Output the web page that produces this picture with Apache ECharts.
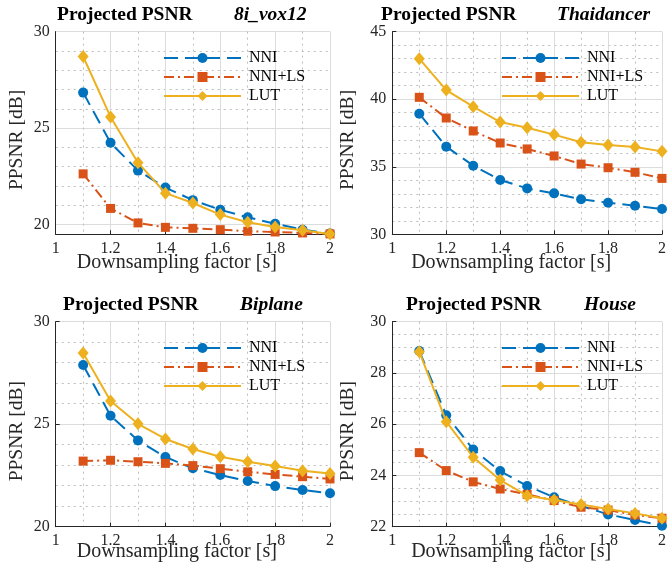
<!DOCTYPE html>
<html>
<head>
<meta charset="utf-8">
<script src="https://cdn.jsdelivr.net/npm/echarts@6/dist/echarts.min.js"></script>
<style>
  html, body { margin: 0; padding: 0; background: #fff; }
  #chart { width: 669px; height: 579px; }
</style>
</head>
<body>
<div id="chart"></div>
<script>
// downsampling factors on the x axis
const factors = [1.1, 1.2, 1.3, 1.4, 1.5, 1.6, 1.7, 1.8, 1.9, 2.0]
const methods = ['NNI', 'NNI+LS', 'LUT']
const sequences = ['8i_vox12', 'Thaidancer', 'Biplane', 'House']

// PPSNR [dB] per sequence / method
const voxNNI = [26.84, 24.24, 22.80, 21.92, 21.27, 20.77, 20.38, 20.05, 19.74, 19.54]
const voxNNILS = [22.63, 20.84, 20.09, 19.86, 19.81, 19.74, 19.66, 19.62, 19.57, 19.52]
const voxLUT = [28.71, 25.58, 23.21, 21.63, 21.12, 20.52, 20.12, 19.88, 19.71, 19.52]

const thaiNNI = [38.93, 36.49, 35.08, 34.02, 33.40, 33.03, 32.59, 32.34, 32.12, 31.87]
const thaiNNILS = [40.14, 38.61, 37.65, 36.76, 36.32, 35.80, 35.20, 34.93, 34.59, 34.14]
const thaiLUT = [43.00, 40.68, 39.45, 38.31, 37.89, 37.38, 36.81, 36.61, 36.46, 36.14]

const biplaneNNI = [27.89, 25.41, 24.21, 23.40, 22.85, 22.52, 22.23, 21.98, 21.79, 21.63]
const biplaneNNILS = [23.20, 23.24, 23.17, 23.09, 22.98, 22.83, 22.68, 22.55, 22.44, 22.33]
const biplaneLUT = [28.47, 26.13, 25.02, 24.28, 23.79, 23.41, 23.17, 22.96, 22.73, 22.60]

const houseNNI = [28.86, 26.35, 25.01, 24.17, 23.59, 23.15, 22.81, 22.48, 22.26, 22.04]
const houseNNILS = [24.89, 24.19, 23.75, 23.47, 23.26, 23.02, 22.76, 22.65, 22.46, 22.33]
const houseLUT = [28.83, 26.10, 24.71, 23.82, 23.21, 23.04, 22.87, 22.69, 22.52, 22.33]

const seqData = [
  [voxNNI, voxNNILS, voxLUT],
  [thaiNNI, thaiNNILS, thaiLUT],
  [biplaneNNI, biplaneNNILS, biplaneLUT],
  [houseNNI, houseNNILS, houseLUT],
]

// y axis ranges / ticks
const yRanges = [
  { min: 19.5, max: 30, major: 5, minor: 5 },
  { min: 30, max: 45, major: 5, minor: 5 },
  { min: 20, max: 30, major: 5, minor: 5 },
  { min: 22, max: 30, major: 2, minor: 4 },
]

// layout of the four panels
const panels = [
  { left: 55.7, top: 31.6, width: 274.3, height: 202.7, titleX: 57, subX: 234, titleY: 5, legendX: 163, legendY: 50, yGap: 29, xGap: 18 },
  { left: 392.3, top: 31.7, width: 275, height: 202.6, titleX: 381, subX: 557, titleY: 5, legendX: 501, legendY: 50, yGap: 34, xGap: 18 },
  { left: 55.7, top: 321.7, width: 274.3, height: 205, titleX: 63, subX: 240, titleY: 295, legendX: 163, legendY: 340, yGap: 29, xGap: 15.5 },
  { left: 392.3, top: 321.7, width: 275, height: 205, titleX: 406, subX: 584, titleY: 295, legendX: 501, legendY: 340, yGap: 34, xGap: 15.5 },
]

const colors = ['#0072BD', '#D95319', '#EDB120']
const lineTypes = [[14, 7], [10, 4, 2, 4], 'solid']
const symbols = ['circle', 'rect', 'diamond']
const symbolSizes = [10, 9, [11, 13]]

const FONT = 'Liberation Serif'
const axisColor = '#262626'
const majorColor = '#dcdcdc'
const minorColor = '#bdbdbd'

const chart = echarts.init(document.getElementById('chart'))

const grid = []
const xAxis = []
const yAxis = []
const series = []
const title = []
const legend = []

panels.forEach((p, i) => {
  grid.push({ left: p.left, top: p.top, width: p.width, height: p.height })

  title.push({
    text: 'Projected PSNR', left: p.titleX, top: p.titleY, padding: 0,
    textStyle: { fontFamily: FONT, fontSize: 19.5, fontWeight: 'bold', color: '#000' },
  })
  title.push({
    text: sequences[i], left: p.subX, top: p.titleY, padding: 0,
    textStyle: { fontFamily: FONT, fontSize: 19.5, fontWeight: 'bold', fontStyle: 'italic', color: '#000' },
  })

  xAxis.push({
    gridIndex: i,
    type: 'value',
    min: 1,
    max: 2,
    interval: 0.2,
    name: 'Downsampling factor [s]',
    nameLocation: 'middle',
    nameGap: p.xGap,
    nameMoveOverlap: false,
    nameTextStyle: { fontFamily: FONT, fontSize: 20, color: axisColor, padding: [0, 32, 0, 0] },
    axisLine: { lineStyle: { color: axisColor, width: 1 } },
    axisTick: { inside: true, length: 4, lineStyle: { color: axisColor } },
    axisLabel: { fontFamily: FONT, fontSize: 16, color: axisColor, margin: 6 },
    splitLine: { show: true, lineStyle: { color: majorColor, width: 1 } },
    minorTick: { show: false, splitNumber: 2 },
    minorSplitLine: { show: true, lineStyle: { color: minorColor, type: [2, 4] } },
  })

  const r = yRanges[i]
  const yName = {
    name: 'PPSNR [dB]',
    nameLocation: 'middle',
    nameGap: p.yGap,
    nameMoveOverlap: false,
    nameTextStyle: { fontFamily: FONT, fontSize: 19.5, color: axisColor, padding: [0, 14, 0, 0] },
  }
  const yIndex = yAxis.length

  if (r.min % r.major !== 0) {
    // range does not start on a major tick: step in half units, draw the grid by colour cycling
    const step = 0.5
    const perMajor = r.major / step
    const offset = Math.round(((Math.ceil(r.min / r.major) * r.major) - r.min) / step)
    const dotted = []
    const solid = []
    for (let k = 0; k < perMajor; k++) {
      const v = r.min + (k * step)
      dotted.push(Number.isInteger(v) ? minorColor : 'transparent')
      solid.push(k === offset ? majorColor : 'transparent')
    }
    yAxis.push(Object.assign({
      gridIndex: i, type: 'value', position: 'left',
      min: r.min, max: r.max, interval: step,
      axisLine: { show: true, lineStyle: { color: axisColor, width: 1 } },
      axisTick: { show: false },
      axisLabel: {
        fontFamily: FONT, fontSize: 16, color: axisColor, margin: 6,
        formatter: (v) => (Math.abs(v % r.major) < 1e-9 ? String(v) : ''),
      },
      splitLine: { show: true, lineStyle: { color: dotted, type: [2, 4] } },
    }, yName))
    yAxis.push({
      gridIndex: i, type: 'value', position: 'left',
      min: r.min, max: r.max, interval: step,
      axisLine: { show: false },
      axisTick: { show: false },
      axisLabel: { show: false },
      splitLine: { show: true, lineStyle: { color: solid, width: 1 } },
    })
  } else {
    yAxis.push(Object.assign({
      gridIndex: i, type: 'value',
      min: r.min, max: r.max, interval: r.major,
      axisLine: { show: true, lineStyle: { color: axisColor, width: 1 } },
      axisTick: { show: true, inside: true, length: 4, lineStyle: { color: axisColor } },
      axisLabel: { fontFamily: FONT, fontSize: 16, color: axisColor, margin: 6 },
      splitLine: { show: true, lineStyle: { color: majorColor, width: 1 } },
      minorTick: { show: false, splitNumber: r.minor },
      minorSplitLine: { show: true, lineStyle: { color: minorColor, type: [2, 4] } },
    }, yName))
  }

  methods.forEach((m, j) => {
    series.push({
      name: m,
      type: 'line',
      xAxisIndex: i,
      yAxisIndex: yIndex,
      data: factors.map((x, k) => [x, seqData[i][j][k]]),
      symbol: symbols[j],
      symbolSize: symbolSizes[j],
      showAllSymbol: true,
      lineStyle: { color: colors[j], width: 2, type: lineTypes[j] },
      itemStyle: { color: colors[j], borderWidth: 0 },
      emphasis: { disabled: true },
      animation: false,
      z: 2 + j,
    })
  })

  legend.push({
    data: methods,
    orient: 'vertical',
    left: p.legendX,
    top: p.legendY,
    padding: 0,
    itemWidth: 77,
    itemHeight: 12.5,
    itemGap: 3,
    selectedMode: false,
    textStyle: { fontFamily: FONT, fontSize: 16, color: '#000', padding: [0, 0, 0, 3] },
  })
})

chart.setOption({
  animation: false,
  title,
  legend,
  grid,
  xAxis,
  yAxis,
  series,
})

window.addEventListener('resize', () => chart.resize())
</script>
</body>
</html>
